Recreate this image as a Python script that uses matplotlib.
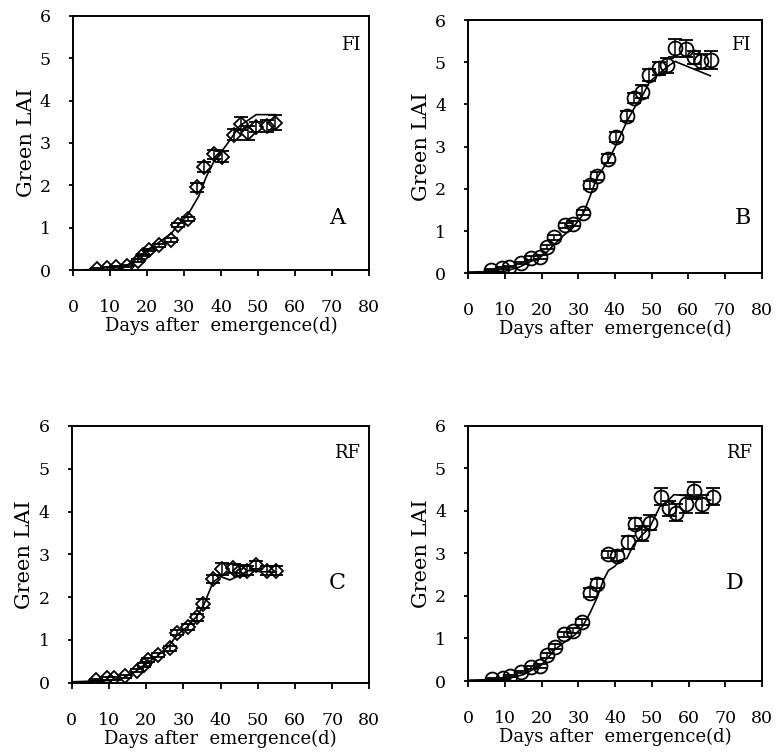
import matplotlib
matplotlib.use("Agg")
import matplotlib.pyplot as plt

plt.rcParams['font.family'] = ['DejaVu Serif']
plt.rcParams['mathtext.fontset'] = 'dejavuserif'

# ---------------- data ----------------
a_days = [6.6, 9.3, 11.5, 14.5, 17.5, 19.0, 20.6, 23.2, 26.5, 28.3, 31.2, 33.4, 35.4, 38.2, 40.2,
          43.6, 45.3, 47.2, 49.4, 52.3, 54.6]
a_lai = [0.02, 0.04, 0.08, 0.10, 0.22, 0.35, 0.47, 0.58, 0.71, 1.06, 1.21, 1.95, 2.44, 2.73, 2.68,
         3.20, 3.46, 3.24, 3.38, 3.40, 3.48]
a_err = [0.02, 0.03, 0.02, 0.02, 0.03, 0.03, 0.03, 0.04, 0.05, 0.05, 0.05, 0.10, 0.12, 0.10, 0.12,
         0.12, 0.16, 0.17, 0.12, 0.15, 0.17]
a_sim_days = [0, 12, 14, 17, 20, 23, 26.5, 28, 31, 34, 36, 38, 40, 42.5, 45, 47.5, 49.5, 54.6]
a_sim = [0, 0.02, 0.08, 0.25, 0.47, 0.64, 0.86, 1.02, 1.30, 1.75, 2.20, 2.55, 2.78, 3.08, 3.40,
         3.55, 3.67, 3.67]

b_days = [6.2, 9.1, 11.2, 14.3, 17.0, 19.6, 21.4, 23.4, 26.4, 28.5, 31.2, 33.2, 35.0, 38.2, 40.2,
          43.2, 45.2, 47.3, 49.3, 52.1, 54.3, 56.5, 59.4, 61.5, 63.5, 66.2]
b_lai = [0.09, 0.12, 0.16, 0.24, 0.36, 0.39, 0.62, 0.85, 1.14, 1.18, 1.44, 2.09, 2.31, 2.72, 3.22,
         3.73, 4.15, 4.30, 4.70, 4.86, 4.93, 5.33, 5.32, 5.12, 5.02, 5.05]
b_err = [0.02, 0.02, 0.02, 0.03, 0.04, 0.04, 0.05, 0.06, 0.06, 0.06, 0.07, 0.10, 0.10, 0.10, 0.12,
         0.12, 0.12, 0.15, 0.15, 0.15, 0.18, 0.21, 0.20, 0.15, 0.17, 0.22]
b_sim_days = [0, 10, 14, 17, 19.6, 21.4, 23.4, 26, 28.5, 31.2, 33.2, 35, 38.2, 40.2, 43.2, 45.2,
              47.3, 49.5, 52.1, 55, 56.4, 66]
b_sim = [0.03, 0.05, 0.15, 0.28, 0.38, 0.50, 0.68, 0.90, 1.08, 1.38, 1.82, 2.25, 2.68, 3.02, 3.59,
         3.91, 4.18, 4.54, 4.74, 4.94, 5.02, 4.68]

c_days = [6.5, 9.4, 11.5, 14.3, 17.6, 19.3, 20.6, 23.1, 26.4, 28.4, 31.3, 33.6, 35.4, 38.1, 40.3,
          43.3, 45.2, 47.2, 49.5, 52.4, 54.9]
c_lai = [0.07, 0.10, 0.10, 0.15, 0.28, 0.41, 0.53, 0.65, 0.80, 1.17, 1.29, 1.53, 1.85, 2.42, 2.65,
         2.67, 2.62, 2.62, 2.75, 2.62, 2.62]
c_err = [0.02, 0.03, 0.03, 0.03, 0.04, 0.04, 0.04, 0.05, 0.06, 0.06, 0.07, 0.08, 0.10, 0.10, 0.14,
         0.10, 0.12, 0.10, 0.10, 0.10, 0.10]
c_sim_days = [0, 10, 14, 17, 20, 23, 26, 28.4, 31, 33.6, 35.4, 38, 40, 42.5, 45, 47.5, 50, 55]
c_sim = [0.02, 0.05, 0.12, 0.25, 0.45, 0.62, 0.85, 1.12, 1.30, 1.55, 1.80, 2.35, 2.48, 2.40, 2.50,
         2.62, 2.60, 2.58]

d_days = [6.6, 9.4, 11.4, 14.4, 17.1, 19.6, 21.4, 23.6, 26.2, 28.4, 31.1, 33.2, 35.2, 38.1, 40.5,
          43.4, 45.3, 47.3, 49.4, 52.5, 54.6, 56.6, 59.4, 61.4, 63.6, 66.6]
d_lai = [0.04, 0.06, 0.12, 0.21, 0.32, 0.35, 0.60, 0.81, 1.10, 1.18, 1.39, 2.08, 2.29, 2.98, 2.94,
         3.26, 3.70, 3.47, 3.72, 4.33, 4.06, 3.96, 4.16, 4.47, 4.16, 4.33]
d_err = [0.02, 0.02, 0.03, 0.03, 0.04, 0.04, 0.05, 0.06, 0.06, 0.06, 0.07, 0.10, 0.10, 0.08, 0.12,
         0.15, 0.12, 0.18, 0.18, 0.20, 0.18, 0.20, 0.20, 0.20, 0.22, 0.20]
d_sim_days = [0, 10, 15, 20, 23.5, 26.3, 29, 31.1, 33.1, 35, 36.8, 38.2, 40, 41.2, 43.2, 45, 47.3,
              49.3, 52.2, 54, 56, 60, 63, 66]
d_sim = [0.02, 0.04, 0.15, 0.38, 0.73, 0.92, 1.08, 1.28, 1.59, 1.94, 2.37, 2.60, 2.70, 2.84, 2.88,
         3.20, 3.43, 3.59, 4.10, 4.20, 4.38, 4.35, 4.32, 4.25]

x_ticks = [0, 10, 20, 30, 40, 50, 60, 70, 80]
y_ticks = [0, 1, 2, 3, 4, 5, 6]
x_label = "Days after  emergence(d)"
y_label = "Green LAI"

panels = [
    dict(rect=[0.0934, 0.6419, 0.3785, 0.3369], days=a_days, lai=a_lai, err=a_err,
         sd=a_sim_days, sv=a_sim, marker='D', ms=7.0, treat="FI", letter="A",
         tpos=(75.0, 5.32), lpos=(71.4, 1.22)),
    dict(rect=[0.5988, 0.6375, 0.3752, 0.3359], days=b_days, lai=b_lai, err=b_err,
         sd=b_sim_days, sv=b_sim, marker='o', ms=10.0, treat="FI", letter="B",
         tpos=(74.4, 5.41), lpos=(75.0, 1.30)),
    dict(rect=[0.0917, 0.0946, 0.3806, 0.3405], days=c_days, lai=c_lai, err=c_err,
         sd=c_sim_days, sv=c_sim, marker='D', ms=7.0, treat="RF", letter="C",
         tpos=(74.0, 5.36), lpos=(71.3, 2.34)),
    dict(rect=[0.5988, 0.0968, 0.3756, 0.3386], days=d_days, lai=d_lai, err=d_err,
         sd=d_sim_days, sv=d_sim, marker='o', ms=10.0, treat="RF", letter="D",
         tpos=(73.7, 5.35), lpos=(72.7, 2.31)),
]

fig = plt.figure(figsize=(7.82, 7.54), dpi=100)

for p in panels:
    ax = fig.add_axes(p['rect'])
    ax.plot(p['sd'], p['sv'], color='black', lw=1.2, zorder=2)
    ax.errorbar(p['days'], p['lai'], yerr=p['err'], fmt=p['marker'], ms=p['ms'],
                mfc='none', mec='black', mew=1.3, ecolor='black', elinewidth=1.1,
                capsize=5, capthick=1.1, zorder=3)
    ax.set_xlim(0, 80)
    ax.set_ylim(0, 6)
    ax.set_xticks(x_ticks)
    ax.set_yticks(y_ticks)
    ax.tick_params(axis='x', direction='out', length=4, width=1.3, pad=17, labelsize=12.5)
    ax.tick_params(axis='y', direction='out', length=3, width=1.3, pad=13, labelsize=12.5)
    for s in ax.spines.values():
        s.set_linewidth(1.4)
    ax.set_xlabel(x_label, fontsize=13, labelpad=0.5)
    ax.set_ylabel(y_label, fontsize=15, labelpad=3)
    ax.text(p['tpos'][0], p['tpos'][1], p['treat'], fontsize=13, ha='center', va='center')
    ax.text(p['lpos'][0], p['lpos'][1], p['letter'], fontsize=16, ha='center', va='center')

fig.savefig("out.png", dpi=100)
